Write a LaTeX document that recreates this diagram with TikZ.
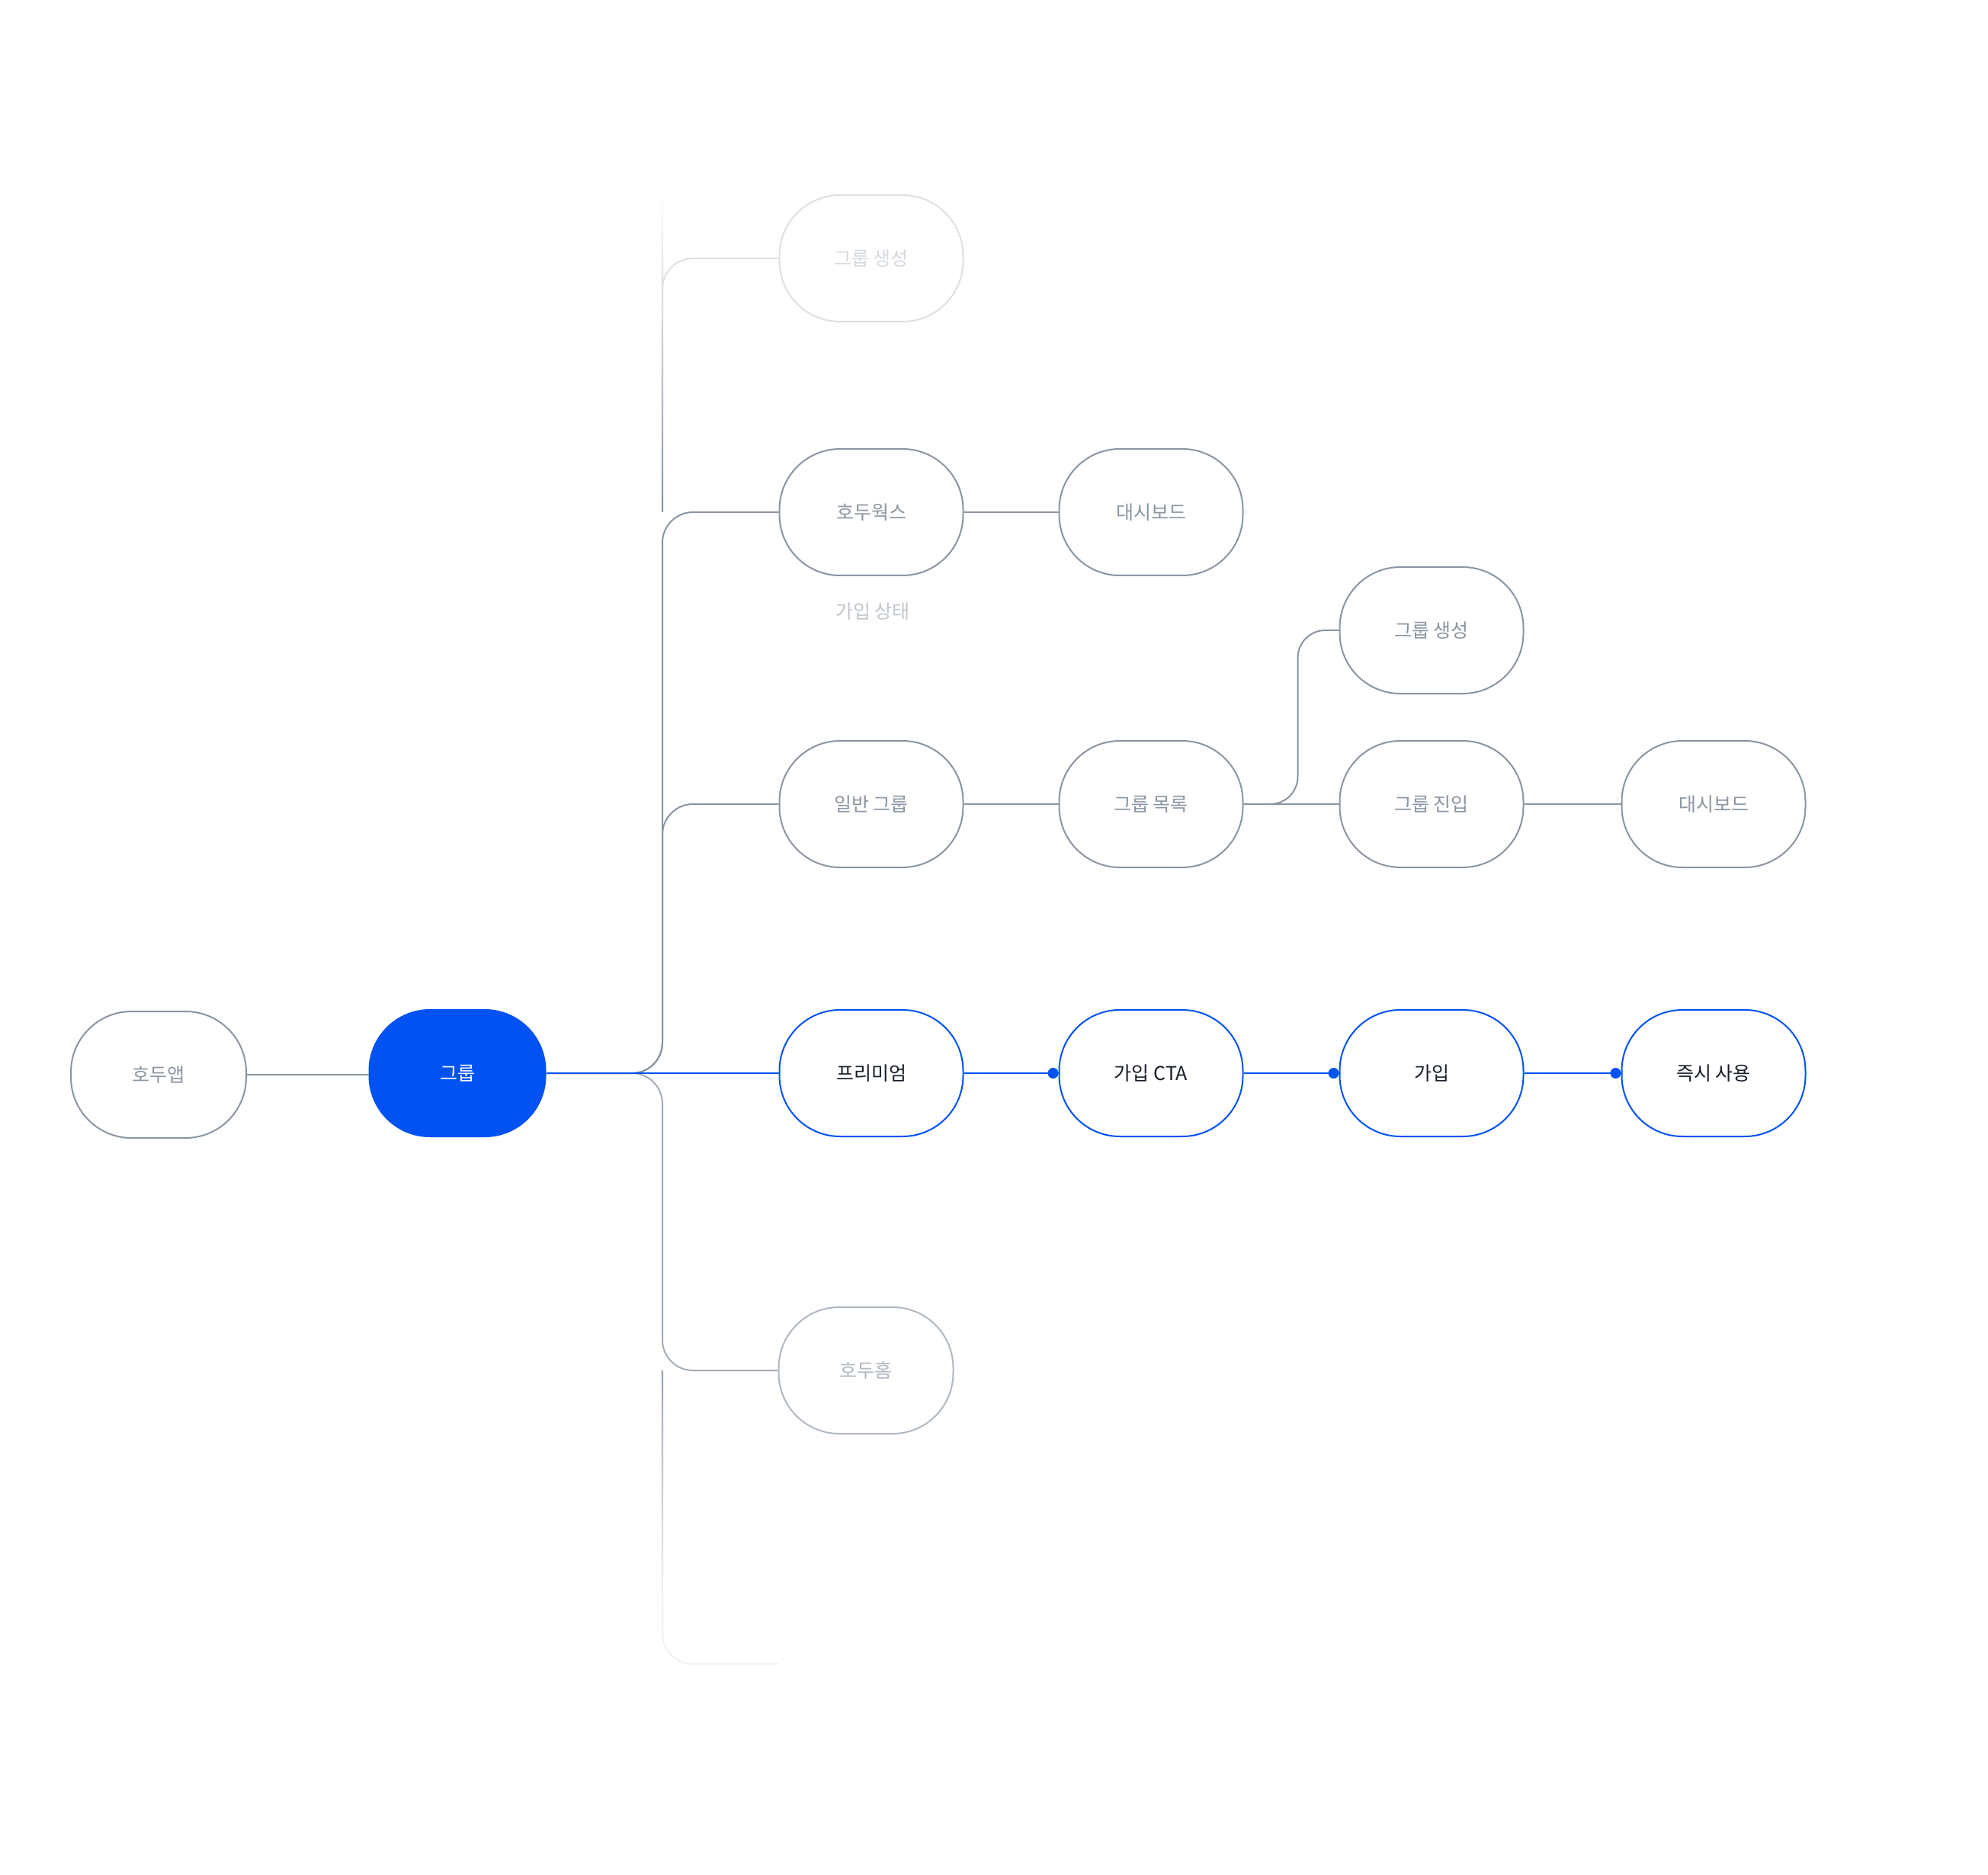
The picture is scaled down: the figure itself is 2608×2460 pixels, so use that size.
\documentclass[tikz,border=0pt]{standalone}
\usepackage{fontspec}
\setmainfont{Noto Sans CJK KR}
\usetikzlibrary{calc}
\definecolor{cgray}{HTML}{8B95A1}
\definecolor{cblue}{HTML}{0052F2}
\definecolor{cblack}{HTML}{191F28}
\definecolor{clabel}{HTML}{C0C6CD}
\definecolor{cfaint}{HTML}{DDE1E5}
\definecolor{cfainttext}{HTML}{D5DAE0}
\definecolor{chome}{HTML}{B0B8C1}
\definecolor{cvfaint}{HTML}{F0F2F4}
\begin{document}
\begin{tikzpicture}[x=0.5pt,y=-0.5pt,
  pill/.style={rectangle, rounded corners=39.8pt, minimum width=120.5pt, minimum height=83pt,
    inner sep=0pt, line width=1pt, draw=cgray, text=cgray, fill=white,
    font=\fontsize{12.5}{14}\selectfont},
  bluepill/.style={pill, draw=cblue, text=cblack},
  link/.style={draw=cgray, line width=1pt},
  blink/.style={draw=cblue, line width=1pt},
  bdot/.style={circle, fill=cblue, inner sep=0pt, minimum size=7pt}]
\useasboundingbox (0,0) rectangle (2608,2460);
% nodes
\node[pill, minimum width=115pt] (app) at (208,1410) {호두앱};
\node[pill, fill=cblue, draw=cblue, text=white, minimum width=115.5pt] (grp) at (600,1408) {그룹};
\node[pill, draw=cfaint, text=cfainttext] (gc1) at (1143,339) {그룹 생성};
\node[pill] (hw) at (1143,672) {호두웍스};
\node[pill] (hwd) at (1510,672) {대시보드};
\node[text=clabel, font=\fontsize{12.5}{14}\selectfont] (state) at (1145,802) {가입 상태};
\node[pill] (gen) at (1143,1055) {일반 그룹};
\node[pill] (glist) at (1510,1055) {그룹 목록};
\node[pill] (gc2) at (1878,827) {그룹 생성};
\node[pill] (genter) at (1878,1055) {그룹 진입};
\node[pill] (gd) at (2248,1055) {대시보드};
\node[bluepill] (prem) at (1143,1408) {프리미엄};
\node[bluepill] (cta) at (1510,1408) {가입 CTA};
\node[bluepill] (join) at (1878,1408) {가입};
\node[bluepill] (use) at (2248,1408) {즉시 사용};
\node[pill, draw=chome, text=chome, minimum width=114.5pt] (home) at (1136,1798) {호두홈};
\coordinate (trunk) at (869,1408);
\coordinate (ttop) at (869,254);
\coordinate (bot) at (1021,2183);
% trunk fades
\shade[top color=white, middle color=cgray!65, bottom color=cgray] ($(ttop)+(-1.2,0)$) rectangle ($(trunk|-hw)+(1.2,0)$);
\shade[top color=cgray!85, bottom color=white] ($(trunk|-home)+(-1.2,0)$) rectangle ($(trunk|-bot)+(1.2,-40)$);
% faint branches
\draw[draw=cfaint, line width=1pt, rounded corners=20pt] ($(trunk|-gc1)+(0,80)$) -- (trunk|-gc1) -- (gc1.west);
\draw[draw=cvfaint, line width=1pt, rounded corners=20pt] ($(trunk|-bot)+(0,-80)$) -- (trunk|-bot) -- (bot);
% gray branches
\draw[link] (app.east) -- (app.east -| grp.west);
\draw[link, rounded corners=20pt] (grp.east) -- (trunk) -- (trunk|-hw) -- (hw.west);
\draw[link, rounded corners=20pt] (grp.east) -- (trunk) -- (trunk|-gen) -- (gen.west);
\draw[link, draw=chome!70!cgray, rounded corners=20pt] (grp.east) -- (trunk) -- (trunk|-home) -- (home.west);
\draw[link] (hw.east) -- (hwd.west);
\draw[link] (gen.east) -- (glist.west);
\draw[link] (glist.east) -- (genter.west);
\draw[link] (genter.east) -- (gd.west);
\coordinate (split) at ($(glist.east)+(71,0)$);
\draw[link, rounded corners=18pt] (glist.east) -- (split) -- (split|-gc2) -- (gc2.west);
% blue path
\draw[blink] (grp.east) -- (prem.west);
\draw[blink] (prem.east) -- (cta.west);
\draw[blink] (cta.east) -- (join.west);
\draw[blink] (join.east) -- (use.west);
\node[bdot] (d1) at ($(cta.west)+(-7,0)$) {};
\node[bdot] (d2) at ($(join.west)+(-7,0)$) {};
\node[bdot] (d3) at ($(use.west)+(-7,0)$) {};
\end{tikzpicture}
\end{document}
